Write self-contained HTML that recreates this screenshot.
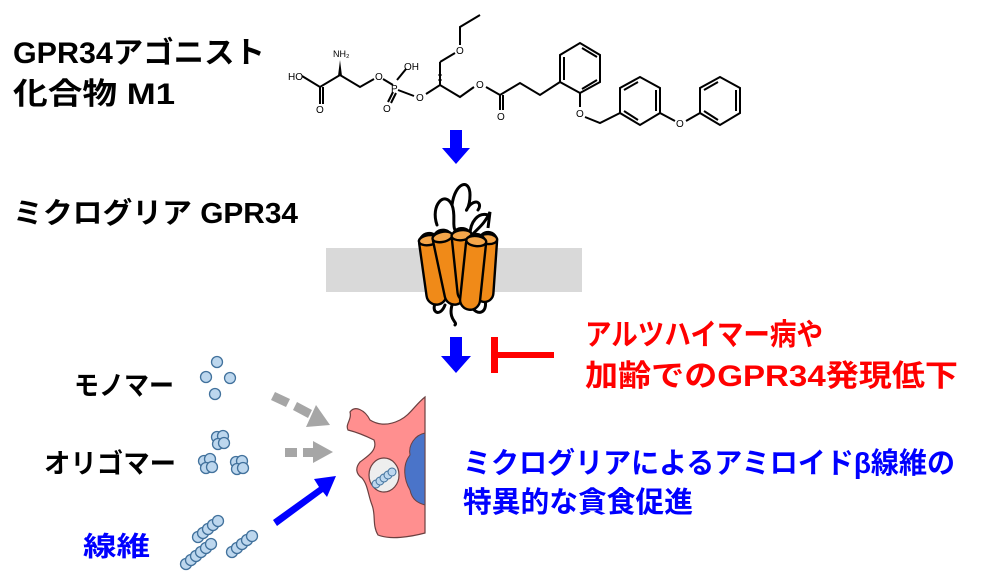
<!DOCTYPE html>
<html><head><meta charset="utf-8"><style>
html,body{margin:0;padding:0;background:#fff;}
svg{display:block;}
text{font-family:"Liberation Sans","Noto Sans CJK JP",sans-serif;font-weight:bold;}
</style></head><body>
<svg width="982" height="582" viewBox="0 0 982 582" xmlns="http://www.w3.org/2000/svg">
<text x="13" y="63" font-size="30" textLength="252" lengthAdjust="spacingAndGlyphs">GPR34アゴニスト</text>
<text x="13" y="104" font-size="30" textLength="162" lengthAdjust="spacingAndGlyphs">化合物 M1</text>
<text x="13" y="223" font-size="29" textLength="285" lengthAdjust="spacingAndGlyphs">ミクログリア GPR34</text>

<g stroke="#000" stroke-width="2" fill="none">
<polyline points="302,76 320,87 340,75 360,87 374,79"/>
<line x1="320" y1="87" x2="320" y2="104"/><line x1="323" y1="87" x2="323" y2="104"/>
<polyline points="383,79 393,85"/>
<line x1="397" y1="80" x2="406" y2="69"/>
<line x1="393" y1="92" x2="388" y2="102"/><line x1="396" y1="93" x2="391" y2="103"/>
<line x1="398" y1="90" x2="414" y2="96"/>
<polyline points="426,94 440,85 460,97 474,87"/>
<line x1="440" y1="85" x2="440" y2="62"/>
<polyline points="440,62 455,53"/>
<polyline points="460,45 460,27 480,15"/>
<polyline points="486,87 500,95 520,83 540,95 560,82"/>
<line x1="500" y1="95" x2="500" y2="110"/><line x1="503" y1="95" x2="503" y2="110"/>
<polygon points="560,82 560,55 580,43 600,55 600,82 580,93"/>
<line x1="564" y1="57" x2="564" y2="80"/><line x1="582" y1="48" x2="597" y2="57"/><line x1="582" y1="89" x2="597" y2="80"/>
<line x1="580" y1="93" x2="580" y2="107"/>
<polyline points="585,117 600,123 620,113"/>
<polygon points="620,113 620,88 640,77 660,88 660,113 640,125"/>
<line x1="624" y1="90" x2="638" y2="82"/><line x1="656" y1="90" x2="656" y2="111"/><line x1="624" y1="111" x2="638" y2="120"/>
<line x1="660" y1="113" x2="675" y2="121"/><line x1="686" y1="121" x2="700" y2="113"/>
<polygon points="700,113 700,88 720,77 740,88 740,113 720,125"/>
<line x1="704" y1="111" x2="718" y2="120"/><line x1="736" y1="90" x2="736" y2="111"/><line x1="704" y1="90" x2="718" y2="82"/>
</g>
<polygon points="338,76 342,76 340,60" fill="#000"/>
<g stroke="#000" stroke-width="1"><line x1="438" y1="80" x2="442" y2="80"/><line x1="438" y1="75" x2="442" y2="75"/><line x1="439" y1="70" x2="441" y2="70"/></g>
<g>
<text x="288" y="80" font-size="10" style="font-weight:normal">HO</text>
<text x="316" y="113" font-size="10" style="font-weight:normal">O</text>
<text x="333" y="57" font-size="9" style="font-weight:normal">NH₂</text>
<text x="375" y="80" font-size="10" style="font-weight:normal">O</text>
<text x="391" y="92" font-size="10" style="font-weight:normal">P</text>
<text x="404" y="70" font-size="10" style="font-weight:normal">OH</text>
<text x="383" y="112" font-size="10" style="font-weight:normal">O</text>
<text x="416" y="101" font-size="10" style="font-weight:normal">O</text>
<text x="456" y="54" font-size="10" style="font-weight:normal">O</text>
<text x="476" y="88" font-size="10" style="font-weight:normal">O</text>
<text x="497" y="120" font-size="10" style="font-weight:normal">O</text>
<text x="576" y="117" font-size="10" style="font-weight:normal">O</text>
<text x="676" y="127" font-size="10" style="font-weight:normal">O</text>
</g>

<polygon points="450,130 462,130 462,148 470,148 456,164 442,148 450,148" fill="#0000ff"/>
<polygon points="450,337 462,337 462,356 471,356 456,373 441,356 450,356" fill="#0000ff"/>

<rect x="326" y="248" width="256" height="44" fill="#d9d9d9"/>

<g stroke="#000" stroke-width="3" fill="none" stroke-linecap="round">
<path d="M437,225 C430,205 445,190 452,205 C456,215 452,225 455,230"/>
<path d="M452,205 C455,182 470,178 470,195 C470,210 462,215 470,205 C478,198 482,205 478,210"/>
<path d="M470,235 C470,222 478,212 488,215"/>
<path d="M452,305 C448,320 458,322 455,325"/>
<path d="M445,305 C440,318 430,312 436,302"/>
<path d="M470,305 C478,318 488,312 485,300"/>
</g>
<g stroke="#000" stroke-width="2.4" fill="#f08a18">
<g transform="rotate(-8 432 270)"><rect x="423" y="233" width="20" height="72" rx="10"/><ellipse cx="433" cy="240" rx="10" ry="5" fill="#f5a64a"/></g>
<g transform="rotate(4 486 270)"><rect x="477" y="232" width="18" height="70" rx="9"/><ellipse cx="486" cy="239" rx="9" ry="5" fill="#f5a64a"/></g>
<g transform="rotate(-12 450 268)"><rect x="439" y="229" width="20" height="76" rx="10"/><ellipse cx="449" cy="236" rx="10" ry="5" fill="#f5a64a"/></g>
<g transform="rotate(-6 465 268)"><rect x="455" y="228" width="20" height="74" rx="10"/><ellipse cx="465" cy="235" rx="10" ry="5" fill="#f5a64a"/></g>
<g transform="rotate(6 474 272)"><rect x="463" y="234" width="20" height="76" rx="10"/><ellipse cx="473" cy="241" rx="10" ry="5" fill="#f5a64a"/></g>
</g>
<path d="M472,235 C478,228 484,225 490,212 L488,228" stroke="#000" stroke-width="3" fill="none"/>

<rect x="491" y="337" width="7" height="36" fill="#ff0000"/>
<rect x="498" y="352" width="56" height="6" fill="#ff0000"/>
<text x="585" y="345" font-size="30" fill="#ff0000" textLength="238" lengthAdjust="spacingAndGlyphs">アルツハイマー病や</text>
<text x="585" y="386" font-size="30" fill="#ff0000" textLength="373" lengthAdjust="spacingAndGlyphs">加齢でのGPR34発現低下</text>

<text x="463" y="473" font-size="29" fill="#0000ff" textLength="492" lengthAdjust="spacingAndGlyphs">ミクログリアによるアミロイドβ線維の</text>
<text x="463" y="512" font-size="29" fill="#0000ff" textLength="230" lengthAdjust="spacingAndGlyphs">特異的な貪食促進</text>

<text x="74" y="395" font-size="27" textLength="100" lengthAdjust="spacingAndGlyphs">モノマー</text>
<text x="44" y="473" font-size="27" textLength="132" lengthAdjust="spacingAndGlyphs">オリゴマー</text>
<text x="83" y="556" font-size="27" fill="#0000ff" textLength="67" lengthAdjust="spacingAndGlyphs">線維</text>

<g fill="#bdd7ee" stroke="#41719c" stroke-width="1.3">
<circle cx="217" cy="362" r="5.5"/><circle cx="206" cy="377" r="5.5"/><circle cx="230" cy="378" r="5.5"/><circle cx="215" cy="394" r="5.5"/>
<circle cx="217" cy="437" r="5.5"/><circle cx="223" cy="436" r="5.5"/><circle cx="218" cy="444" r="5.5"/><circle cx="224" cy="443" r="5.5"/>
<circle cx="204" cy="461" r="5.5"/><circle cx="210" cy="459" r="5.5"/><circle cx="206" cy="468" r="5.5"/><circle cx="212" cy="467" r="5.5"/>
<circle cx="236" cy="462" r="5.5"/><circle cx="242" cy="461" r="5.5"/><circle cx="237" cy="469" r="5.5"/><circle cx="243" cy="468" r="5.5"/>
<circle cx="198" cy="537" r="5.5"/><circle cx="203" cy="533" r="5.5"/><circle cx="208" cy="529" r="5.5"/><circle cx="213" cy="525" r="5.5"/><circle cx="218" cy="521" r="5.5"/>
<circle cx="186" cy="564" r="5.5"/><circle cx="191" cy="560" r="5.5"/><circle cx="196" cy="556" r="5.5"/><circle cx="201" cy="552" r="5.5"/><circle cx="206" cy="548" r="5.5"/><circle cx="211" cy="544" r="5.5"/>
<circle cx="232" cy="552" r="5.5"/><circle cx="237" cy="548" r="5.5"/><circle cx="242" cy="544" r="5.5"/><circle cx="247" cy="540" r="5.5"/><circle cx="252" cy="536" r="5.5"/>
</g>

<g fill="#a6a6a6">
<polygon points="271,400 275,392 290,399 286,407"/>
<polygon points="293,410 297,402 312,410 308,418"/>
<polygon points="316,405 330,425 306,427"/>
<rect x="285" y="448" width="12" height="9"/>
<polygon points="303,448 313,448 313,441 333,452 313,463 313,457 303,457"/>
</g>
<polygon points="273,520 319,487 314,479 336,476 327,497 323,492 277,526" fill="#0000ff"/>

<path d="M425,397 C415,405 410,415 400,420 C388,426 378,425 370,420 C365,410 355,405 350,412 C352,420 345,424 348,430 C356,432 366,436 374,440 C378,450 368,456 360,462 C355,468 356,474 362,478 C368,485 368,495 372,505 C376,515 372,525 378,535 C390,540 410,537 425,533 Z" fill="#ff8f8f" stroke="#6b4040" stroke-width="1.2"/>
<path d="M425,433 C415,435 408,445 410,455 C402,465 404,480 410,490 C412,500 418,503 425,505 Z" fill="#4a74c9" stroke="#6b4040" stroke-width="1"/>
<ellipse cx="384" cy="475" rx="15" ry="17" fill="#eeeeee" stroke="#6b4040" stroke-width="1.2"/>
<g fill="#bdd7ee" stroke="#41719c" stroke-width="1">
<circle cx="376" cy="484" r="4"/><circle cx="380" cy="481" r="4"/><circle cx="384" cy="478" r="4"/><circle cx="388" cy="475" r="4"/><circle cx="392" cy="472" r="4"/>
</g>
</svg>
</body></html>
